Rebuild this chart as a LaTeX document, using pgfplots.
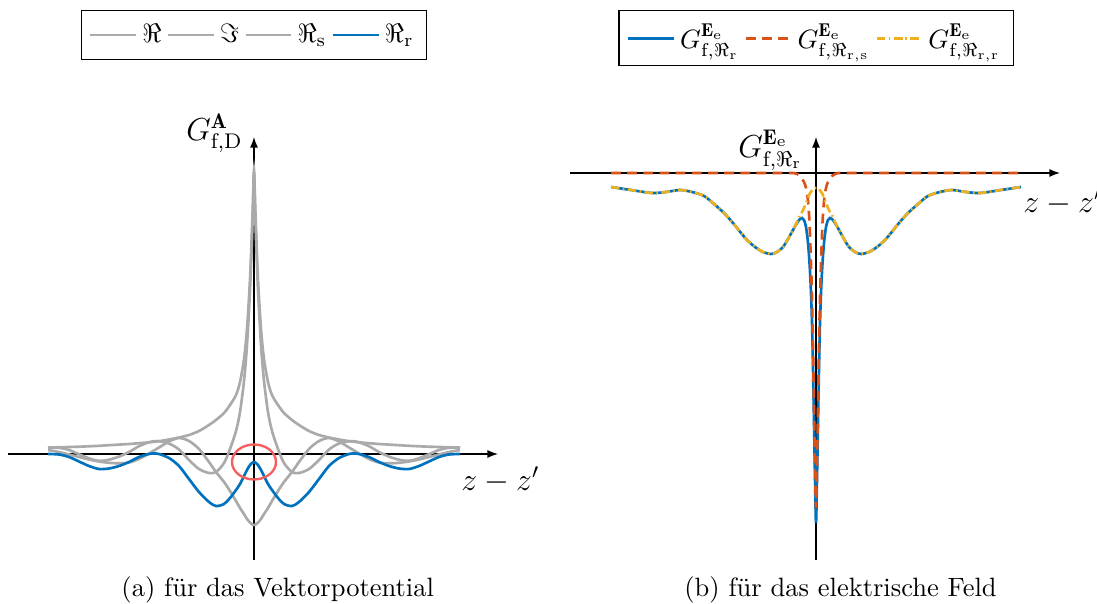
\documentclass[border=0pt]{standalone}
\usepackage{fontspec}
\usepackage{pgfplots}
\pgfplotsset{compat=1.18}
\usepackage{pgfplotstable}
\usetikzlibrary{arrows.meta}

\definecolor{mblue}{RGB}{0,114,189}
\definecolor{morange}{RGB}{217,83,25}
\definecolor{myellow}{RGB}{237,177,32}
\definecolor{cgray}{RGB}{170,170,170}
\definecolor{cred}{RGB}{245,95,95}

% one drawing unit
\def\pxu{0.37736pt}

% Green's function, vector potential: x, Re, Im, Re_s, Re_r
\pgfplotstableread{
x R I Rs Rr
-206 6.5 4 6.5 0
-195 6.2 2 6.7 -0.5
-185 4 -0.5 7 -3
-175 -0.2 -3 7.3 -7.5
-165 -4.3 -5.5 7.7 -12
-155 -6.8 -7.5 8.2 -15
-145 -5.7 -8.8 8.8 -14.5
-135 -2.6 -9.3 9.4 -12
-125 2 -8.5 10 -8
-115 7.8 -5 10.8 -3
-105 11.7 0.5 11.7 0
-100 12.7 3.5 12.2 0.5
-95 12.8 6.5 12.8 0
-85 10.5 12.5 14.5 -4
-75 4.5 16 16.5 -12
-65 -6 13 19 -25
-55 -15 5 23 -38
-45 -19 -8 29 -48
-38 -18 -18 34 -52
-30 -9 -28 41 -50
-24 5 -37 49 -44
-18 23 -47 59 -36
-14 42 -54 72 -30
-10 73 -60 95 -22
-7 109 -65 125 -16
-4 164 -68.5 175 -11
-2 216 -70.3 225 -9
-1 247 -70.8 255 -8.4
0 282 -71 284 -8
1 247 -70.8 255 -8.4
2 216 -70.3 225 -9
4 164 -68.5 175 -11
7 109 -65 125 -16
10 73 -60 95 -22
14 42 -54 72 -30
18 23 -47 59 -36
24 5 -37 49 -44
30 -9 -28 41 -50
38 -18 -18 34 -52
45 -19 -8 29 -48
55 -15 5 23 -38
65 -6 13 19 -25
75 4.5 16 16.5 -12
85 10.5 12.5 14.5 -4
95 12.8 6.5 12.8 0
100 12.7 3.5 12.2 0.5
105 11.7 0.5 11.7 0
115 7.8 -5 10.8 -3
125 2 -8.5 10 -8
135 -2.6 -9.3 9.4 -12
145 -5.7 -8.8 8.8 -14.5
155 -6.8 -7.5 8.2 -15
165 -4.3 -5.5 7.7 -12
175 -0.2 -3 7.3 -7.5
185 4 -0.5 7 -3
195 6.2 2 6.7 -0.5
206 6.5 4 6.5 0
}\lefttab

% Green's function, electric field: x, Re_r, Re_r,s, Re_r,r
\pgfplotstableread{
x Rr Rrs Rrr
-205 -14 0 -14
-185 -17 0 -17
-164 -20 0 -20
-150 -19 0 -19
-136 -17 0 -17
-124 -19 0 -19
-112 -23 0 -23
-102 -31 0 -31
-92 -40 0 -40
-83 -50 0 -50
-75 -60 0 -60
-68 -68 0 -68
-61 -74 0 -74
-53 -79 0 -79
-45 -81 0 -81
-39 -79 0 -79
-33 -74 0 -74
-28 -66 0 -66
-23 -57 0 -57
-19 -50 -1 -49
-16 -46 -3 -42
-14 -45 -6 -39
-12 -47 -9 -35
-10 -54 -15 -30
-8 -70 -28 -25
-6.5 -90 -50 -21
-5.2 -115 -85 -19
-4 -150 -125 -17.5
-3 -195 -175 -16
-2 -250 -235 -15.3
-1 -305 -290 -15
0 -350 -335 -15
1 -305 -290 -15
2 -250 -235 -15.3
3 -195 -175 -16
4 -150 -125 -17.5
5.2 -115 -85 -19
6.5 -90 -50 -21
8 -70 -28 -25
10 -54 -15 -30
12 -47 -9 -35
14 -45 -6 -39
16 -46 -3 -42
19 -50 -1 -49
23 -57 0 -57
28 -66 0 -66
33 -74 0 -74
39 -79 0 -79
45 -81 0 -81
53 -79 0 -79
61 -74 0 -74
68 -68 0 -68
75 -60 0 -60
83 -50 0 -50
92 -40 0 -40
102 -31 0 -31
112 -23 0 -23
124 -19 0 -19
136 -17 0 -17
150 -19 0 -19
164 -20 0 -20
185 -17 0 -17
205 -14 0 -14
}\righttab

\pgfplotsset{
  greenaxis/.style={
    x=\pxu, y=\pxu,
    anchor=origin,
    axis lines=middle,
    axis line style={-{Latex[length=4pt,width=3pt]}, line width=0.45pt},
    xtick=\empty, ytick=\empty,
    clip=false,
    legend cell align=left,
    legend style={draw=black, line width=0.45pt, anchor=north, inner sep=3pt},
  },
  curve/.style={line width=1pt, smooth},
}

\begin{document}
\begin{tikzpicture}
\useasboundingbox (0,0) rectangle ({1097*\pxu},{603*\pxu});

% (a) vector potential
\begin{axis}[greenaxis,
  at={({254*\pxu},{149*\pxu})},
  xmin=-246, xmax=244, ymin=-106, ymax=317,
  legend columns=4,
  legend style={at={(0.502,1.300)}},
]
\addplot[curve, cgray] table[x=x, y=R] {\lefttab};
\addlegendentry{$\Re$}
\addplot[curve, cgray] table[x=x, y=I] {\lefttab};
\addlegendentry{$\Im$}
\addplot[curve, cgray] table[x=x, y=Rs] {\lefttab};
\addlegendentry{$\Re_{\mathrm{s}}$}
\addplot[curve, mblue] table[x=x, y=Rr] {\lefttab};
\addlegendentry{$\Re_{\mathrm{r}}$}
\draw[cred, line width=0.9pt] (axis cs:0,-8) ellipse [x radius={22*\pxu}, y radius={17.5*\pxu}];
\node[anchor=east, font=\large] at (axis cs:-2,321) {$G^{\mathbf{A}}_{\mathrm{f,D}}$};
\node[anchor=west, font=\large] at (axis cs:198,-26) {$z-z'$};
\end{axis}

% (b) electric field
\begin{axis}[greenaxis,
  at={({816*\pxu},{430*\pxu})},
  xmin=-246, xmax=244, ymin=-387, ymax=36,
  legend columns=3,
  legend style={at={(0.503,1.300)}},
]
\addplot[curve, mblue] table[x=x, y=Rr] {\righttab};
\addlegendentry{$G^{\mathbf{E}_{\mathrm{e}}}_{\mathrm{f},\Re_{\mathrm{r}}}$}
\addplot[curve, morange, dash pattern=on 3.7pt off 2.4pt] table[x=x, y=Rrs] {\righttab};
\addlegendentry{$G^{\mathbf{E}_{\mathrm{e}}}_{\mathrm{f},\Re_{\mathrm{r,s}}}$}
\addplot[curve, myellow, dash pattern=on 3.2pt off 1.3pt on 0.6pt off 1.3pt] table[x=x, y=Rrr] {\righttab};
\addlegendentry{$G^{\mathbf{E}_{\mathrm{e}}}_{\mathrm{f},\Re_{\mathrm{r,r}}}$}
\node[anchor=east, font=\large] at (axis cs:-4,23) {$G^{\mathbf{E}_{\mathrm{e}}}_{\mathrm{f},\Re_{\mathrm{r}}}$};
\node[anchor=west, font=\large] at (axis cs:198,-29) {$z-z'$};
\end{axis}

\node[anchor=base] at ({277.7*\pxu},{7*\pxu}) {(a) für das Vektorpotential};
\node[anchor=base] at ({840.5*\pxu},{7*\pxu}) {(b) für das elektrische Feld};
\end{tikzpicture}
\end{document}
